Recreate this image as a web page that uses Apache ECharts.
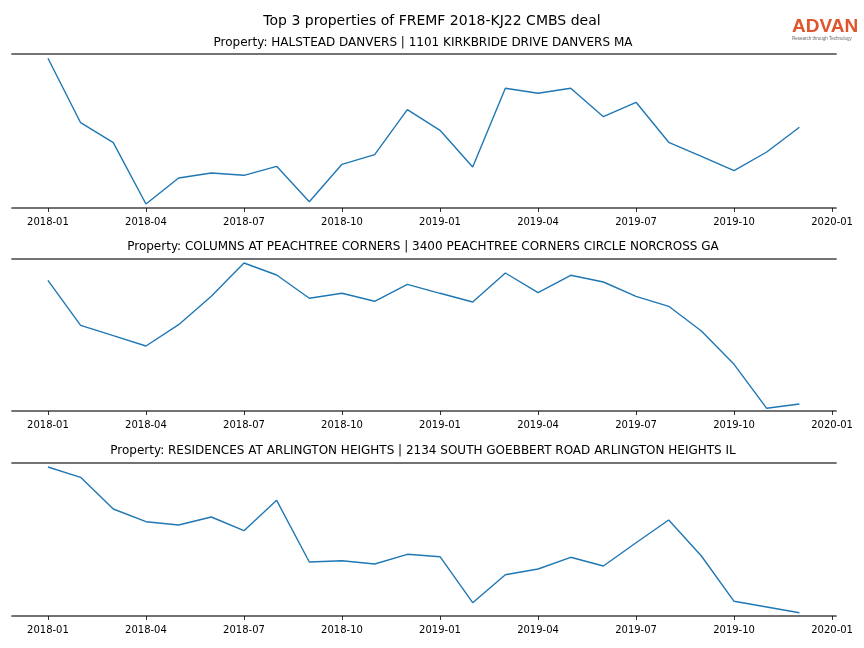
<!DOCTYPE html>
<html>
<head>
<meta charset="utf-8">
<script src="https://cdn.jsdelivr.net/npm/echarts@6/dist/echarts.min.js"></script>
<style>html,body{margin:0;padding:0;background:#fff;}#c{width:864px;height:648px;}</style>
</head>
<body>
<div id="c"></div>
<script>
const months = ['2018-01','2018-02','2018-03','2018-04','2018-05','2018-06','2018-07','2018-08','2018-09','2018-10','2018-11','2018-12',
                '2019-01','2019-02','2019-03','2019-04','2019-05','2019-06','2019-07','2019-08','2019-09','2019-10','2019-11','2019-12'];
const tickLabels = ['2018-01','2018-04','2018-07','2018-10','2019-01','2019-04','2019-07','2019-10','2020-01'];
const tickPositions = [0,3,6,9,12,15,18,21,24];

const mainTitle = 'Top 3 properties of FREMF 2018-KJ22 CMBS deal';
const panelTitles = [
  'Property: HALSTEAD DANVERS | 1101 KIRKBRIDE DRIVE DANVERS MA',
  'Property: COLUMNS AT PEACHTREE CORNERS | 3400 PEACHTREE CORNERS CIRCLE NORCROSS GA',
  'Property: RESIDENCES AT ARLINGTON HEIGHTS | 2134 SOUTH GOEBBERT ROAD ARLINGTON HEIGHTS IL'
];

// relative values (no y scale shown in the reference)
const halstead = [149.7,85.3,65.3,4,30,35,32.7,41.7,6.3,43.7,53.3,98.3,77.7,41,119.7,114.7,119.7,91.3,105.7,65.7,51.7,37.3,56,80.7];
const columns = [130.7,85.7,75.3,65,86.3,114.7,148,136,112.7,117.7,109.7,126.7,117.7,109,138,118.3,135.7,129,114.7,104.7,80,46.7,2.7,7];
const residences = [149,138.7,107,94.3,91,99,85.3,115.7,54,55.3,52,61.7,59.3,13.3,41.3,47,58.7,50,73.3,96,60,14.7,9,3.3];

const seriesList = [halstead, columns, residences];
const yMax = [154, 152, 153];

const grids = [
  {left: 12, right: 28, top: 54, height: 154},
  {left: 12, right: 28, top: 259, height: 152},
  {left: 12, right: 28, top: 463, height: 153}
];
const titleTops = [32, 236, 440];

const chart = echarts.init(document.getElementById('c'), null, {renderer: 'canvas'});
const spine = {show: true, lineStyle: {color: '#444', width: 1.7}};
const xAxes = [], yAxes = [], series = [], titles = [];
titles.push({text: mainTitle, left: 427, top: 9, textAlign: 'center',
  textStyle: {fontFamily: 'DejaVu Sans', fontSize: 14, fontWeight: 'normal', color: '#000'}});
grids.forEach((g, i) => {
  xAxes.push({
    type: 'value', gridIndex: i, position: 'bottom', min: -1.1, max: 24.12,
    axisLine: spine, splitLine: {show: false},
    axisTick: {show: true, length: 4, customValues: tickPositions, lineStyle: {color: '#000', width: 0.8}},
    axisLabel: {show: true, customValues: tickPositions, margin: 9,
      fontFamily: 'DejaVu Sans', fontSize: 10, color: '#000',
      formatter: v => tickLabels[tickPositions.indexOf(Math.round(v))] || ''}
  });
  xAxes.push({
    type: 'value', gridIndex: i, position: 'top', min: -1.1, max: 24.12,
    axisLine: spine, splitLine: {show: false}, axisTick: {show: false}, axisLabel: {show: false}
  });
  yAxes.push({type: 'value', gridIndex: i, min: 0, max: yMax[i], show: false, splitLine: {show: false}});
  series.push({
    type: 'line', xAxisIndex: i * 2, yAxisIndex: i,
    data: seriesList[i].map((v, k) => [k, v]),
    showSymbol: false, symbol: 'none',
    lineStyle: {color: '#1f77b4', width: 1.4}, animation: false
  });
  titles.push({text: panelTitles[i], left: 418, top: titleTops[i], textAlign: 'center',
    textStyle: {fontFamily: 'DejaVu Sans', fontSize: 12, fontWeight: 'normal', color: '#000'}});
});

chart.setOption({
  backgroundColor: '#fff',
  animation: false,
  title: titles,
  grid: grids,
  xAxis: xAxes,
  yAxis: yAxes,
  series: series,
  graphic: [
    {type: 'text', left: 792, top: 17, style: {text: 'ADVAN', fontFamily: 'Liberation Sans', fontSize: 19, fontWeight: 'bold', fill: '#e0552c'}},
    {type: 'text', left: 792, top: 36, style: {text: 'Research through Technology', fontFamily: 'Liberation Sans', fontSize: 4.5, fill: '#666'}}
  ]
});
</script>
</body>
</html>
